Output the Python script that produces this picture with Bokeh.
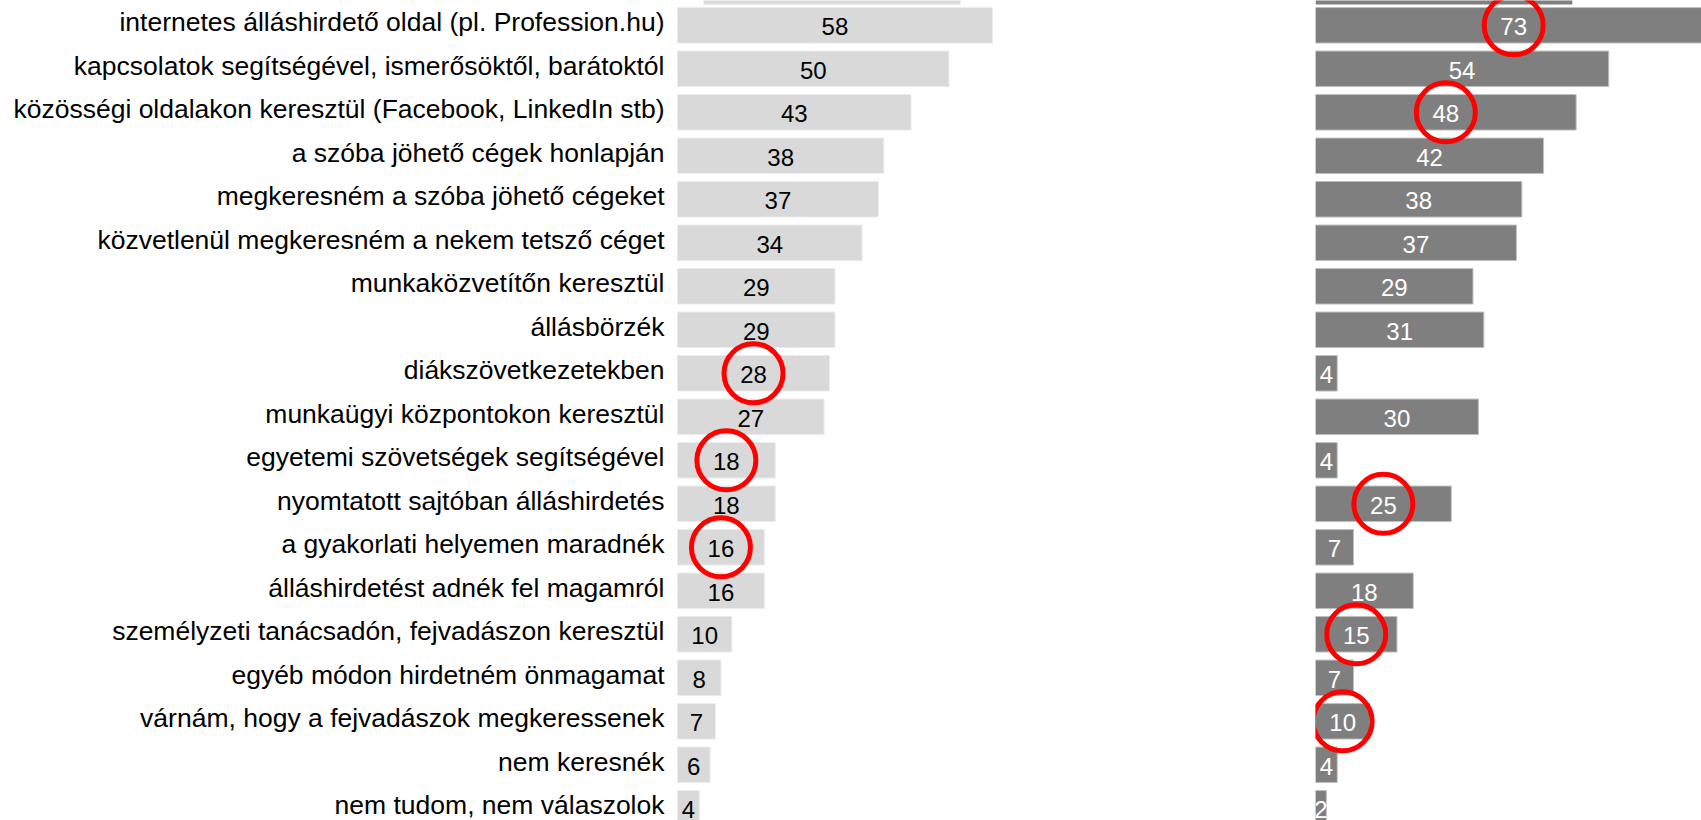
from bokeh.plotting import figure
from bokeh.layouts import row
from bokeh.models import ColumnDataSource, Range1d
from bokeh.core.properties import value
from bokeh.embed import file_html
from bokeh.resources import INLINE

# Job-search channels and the share (%) choosing each one, in two groups
categories = [
    "internetes álláshirdető oldal (pl. Profession.hu)",
    "kapcsolatok segítségével, ismerősöktől, barátoktól",
    "közösségi oldalakon keresztül (Facebook, LinkedIn stb)",
    "a szóba jöhető cégek honlapján",
    "megkeresném a szóba jöhető cégeket",
    "közvetlenül megkeresném a nekem tetsző céget",
    "munkaközvetítőn keresztül",
    "állásbörzék",
    "diákszövetkezetekben",
    "munkaügyi központokon keresztül",
    "egyetemi szövetségek segítségével",
    "nyomtatott sajtóban álláshirdetés",
    "a gyakorlati helyemen maradnék",
    "álláshirdetést adnék fel magamról",
    "személyzeti tanácsadón, fejvadászon keresztül",
    "egyéb módon hirdetném önmagamat",
    "várnám, hogy a fejvadászok megkeressenek",
    "nem keresnék",
    "nem tudom, nem válaszolok",
]
left_values = [58, 50, 43, 38, 37, 34, 29, 29, 28, 27, 18, 18, 16, 16, 10, 8, 7, 6, 4]
right_values = [73, 54, 48, 42, 38, 37, 29, 31, 4, 30, 4, 25, 7, 18, 15, 7, 10, 4, 2]

# Rows whose value is ringed in red
left_marked = [8, 10, 12]
right_marked = [0, 2, 11, 14, 16]

# Column header tiles (in value units) partly visible above the first row
left_header = (4.8, 52.1)
right_header = (0.0, 47.3)

PX_PER_UNIT = 5.43
ROW_PX = 43.5
TOP_ROW_PX = 24.8
HEIGHT = 820
LEFT_W = 1315
RIGHT_W = 1701 - LEFT_W
LEFT_ZERO_PX = 677

rows = list(range(len(categories)))
y_rng = ((HEIGHT - TOP_ROW_PX) / ROW_PX, -TOP_ROW_PX / ROW_PX)
bar_h = 35.5 / ROW_PX
header_bottom = (4 - TOP_ROW_PX) / ROW_PX

FONT = value("Liberation Sans")


def make_fig(width, x0, x1):
    p = figure(width=width, height=HEIGHT,
               x_range=Range1d(x0, x1), y_range=Range1d(*y_rng),
               output_backend="svg", toolbar_location=None,
               x_axis_type=None, y_axis_type=None,
               min_border=0, outline_line_color=None,
               background_fill_color="white", border_fill_color="white")
    p.grid.visible = False
    return p


left_src = ColumnDataSource(dict(row=rows, cat=categories, val=left_values,
                                 mid=[v / 2 for v in left_values],
                                 lbl=[str(v) for v in left_values]))
right_src = ColumnDataSource(dict(row=rows, val=right_values,
                                  mid=[v / 2 for v in right_values],
                                  lbl=[str(v) for v in right_values]))

# Left panel: category labels and the first group's bars
p1 = make_fig(LEFT_W, -LEFT_ZERO_PX / PX_PER_UNIT, (LEFT_W - LEFT_ZERO_PX) / PX_PER_UNIT)
p1.quad(left=left_header[0], right=left_header[1], top=-2.0, bottom=header_bottom,
        fill_color="#d9d9d9", line_color=None)
p1.hbar(y="row", left=0, right="val", height=bar_h, source=left_src,
        fill_color="#d9d9d9", line_color="#ececec", line_width=1)
p1.text(x=0, y="row", text="cat", source=left_src, x_offset=-13, y_offset=-3,
        text_align="right", text_baseline="middle", text_color="#000000",
        text_font=FONT, text_font_size="26.5px")
p1.text(x="mid", y="row", text="lbl", source=left_src, y_offset=1.5,
        text_align="center", text_baseline="middle", text_color="#000000",
        text_font=FONT, text_font_size="24px")
p1.scatter(x=[left_values[i] / 2 for i in left_marked], y=left_marked,
           marker="circle", size=59, fill_alpha=0, line_color="#ff0000", line_width=5)

# Right panel: the second group's bars
p2 = make_fig(RIGHT_W, 0, RIGHT_W / PX_PER_UNIT)
p2.quad(left=right_header[0], right=right_header[1], top=-2.0, bottom=header_bottom,
        fill_color="#7f7f7f", line_color=None)
p2.hbar(y="row", left=0, right="val", height=bar_h, source=right_src,
        fill_color="#7f7f7f", line_color="#bfbfbf", line_width=1)
p2.text(x="mid", y="row", text="lbl", source=right_src, y_offset=1.5,
        text_align="center", text_baseline="middle", text_color="#ffffff",
        text_font=FONT, text_font_size="24px")
p2.scatter(x=[right_values[i] / 2 for i in right_marked], y=right_marked,
           marker="circle", size=59, fill_alpha=0, line_color="#ff0000", line_width=5)

layout = row(p1, p2, spacing=0)
open("out.html", "w").write(file_html(layout, INLINE))
